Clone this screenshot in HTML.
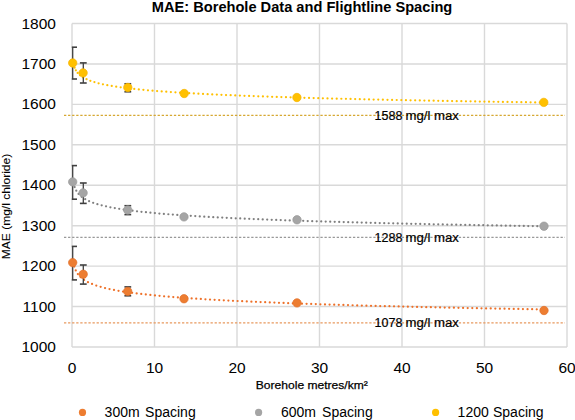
<!DOCTYPE html>
<html><head><meta charset="utf-8"><style>html,body{margin:0;padding:0;background:#fff;width:575px;height:420px;overflow:hidden;position:relative}</style></head>
<body><svg width="575" height="420" viewBox="0 0 575 420" style="position:absolute;left:0;top:0"><line x1="72.0" y1="23.50" x2="567.0" y2="23.50" stroke="#d9d9d9" stroke-width="1.4"/><line x1="72.0" y1="63.94" x2="567.0" y2="63.94" stroke="#d9d9d9" stroke-width="1.4"/><line x1="72.0" y1="104.38" x2="567.0" y2="104.38" stroke="#d9d9d9" stroke-width="1.4"/><line x1="72.0" y1="144.81" x2="567.0" y2="144.81" stroke="#d9d9d9" stroke-width="1.4"/><line x1="72.0" y1="185.25" x2="567.0" y2="185.25" stroke="#d9d9d9" stroke-width="1.4"/><line x1="72.0" y1="225.69" x2="567.0" y2="225.69" stroke="#d9d9d9" stroke-width="1.4"/><line x1="72.0" y1="266.12" x2="567.0" y2="266.12" stroke="#d9d9d9" stroke-width="1.4"/><line x1="72.0" y1="306.56" x2="567.0" y2="306.56" stroke="#d9d9d9" stroke-width="1.4"/><line x1="72.0" y1="347.00" x2="567.0" y2="347.00" stroke="#d9d9d9" stroke-width="1.4"/><line x1="72.00" y1="23.5" x2="72.00" y2="347.0" stroke="#d9d9d9" stroke-width="1.4"/><line x1="154.50" y1="23.5" x2="154.50" y2="347.0" stroke="#d9d9d9" stroke-width="1.4"/><line x1="237.00" y1="23.5" x2="237.00" y2="347.0" stroke="#d9d9d9" stroke-width="1.4"/><line x1="319.50" y1="23.5" x2="319.50" y2="347.0" stroke="#d9d9d9" stroke-width="1.4"/><line x1="402.00" y1="23.5" x2="402.00" y2="347.0" stroke="#d9d9d9" stroke-width="1.4"/><line x1="484.50" y1="23.5" x2="484.50" y2="347.0" stroke="#d9d9d9" stroke-width="1.4"/><line x1="567.00" y1="23.5" x2="567.00" y2="347.0" stroke="#d9d9d9" stroke-width="1.4"/><line x1="64" y1="115.4" x2="565" y2="115.4" stroke="#d6a832" stroke-width="1.2" stroke-dasharray="2.3 1.77"/><line x1="64" y1="237.4" x2="565" y2="237.4" stroke="#999999" stroke-width="1.2" stroke-dasharray="2.3 1.77"/><line x1="64" y1="322.8" x2="565" y2="322.8" stroke="#e8995f" stroke-width="1.2" stroke-dasharray="2.3 1.77"/><g fill="#ffc000"><circle cx="73.14" cy="62.17" r="1.12"/><circle cx="73.72" cy="64.93" r="1.12"/><circle cx="74.59" cy="67.67" r="1.12"/><circle cx="75.87" cy="70.34" r="1.12"/><circle cx="77.67" cy="72.90" r="1.12"/><circle cx="80.07" cy="75.27" r="1.12"/><circle cx="83.07" cy="77.38" r="1.12"/><circle cx="86.55" cy="79.21" r="1.12"/><circle cx="90.37" cy="80.77" r="1.12"/><circle cx="94.42" cy="82.11" r="1.12"/><circle cx="98.62" cy="83.26" r="1.12"/><circle cx="102.93" cy="84.26" r="1.12"/><circle cx="107.31" cy="85.15" r="1.12"/><circle cx="111.73" cy="85.94" r="1.12"/><circle cx="116.20" cy="86.65" r="1.12"/><circle cx="120.69" cy="87.30" r="1.12"/><circle cx="125.20" cy="87.89" r="1.12"/><circle cx="129.73" cy="88.44" r="1.12"/><circle cx="134.27" cy="88.94" r="1.12"/><circle cx="138.82" cy="89.42" r="1.12"/><circle cx="143.38" cy="89.86" r="1.12"/><circle cx="147.95" cy="90.27" r="1.12"/><circle cx="152.52" cy="90.67" r="1.12"/><circle cx="157.10" cy="91.04" r="1.12"/><circle cx="161.68" cy="91.39" r="1.12"/><circle cx="166.26" cy="91.72" r="1.12"/><circle cx="170.85" cy="92.04" r="1.12"/><circle cx="175.44" cy="92.34" r="1.12"/><circle cx="180.03" cy="92.63" r="1.12"/><circle cx="184.63" cy="92.91" r="1.12"/><circle cx="189.22" cy="93.18" r="1.12"/><circle cx="193.82" cy="93.44" r="1.12"/><circle cx="198.42" cy="93.69" r="1.12"/><circle cx="203.02" cy="93.93" r="1.12"/><circle cx="207.63" cy="94.16" r="1.12"/><circle cx="212.23" cy="94.38" r="1.12"/><circle cx="216.83" cy="94.60" r="1.12"/><circle cx="221.44" cy="94.81" r="1.12"/><circle cx="226.04" cy="95.01" r="1.12"/><circle cx="230.65" cy="95.21" r="1.12"/><circle cx="235.26" cy="95.40" r="1.12"/><circle cx="239.87" cy="95.58" r="1.12"/><circle cx="244.47" cy="95.77" r="1.12"/><circle cx="249.08" cy="95.94" r="1.12"/><circle cx="253.69" cy="96.11" r="1.12"/><circle cx="258.30" cy="96.28" r="1.12"/><circle cx="262.91" cy="96.45" r="1.12"/><circle cx="267.52" cy="96.61" r="1.12"/><circle cx="272.13" cy="96.76" r="1.12"/><circle cx="276.75" cy="96.91" r="1.12"/><circle cx="281.36" cy="97.06" r="1.12"/><circle cx="285.97" cy="97.21" r="1.12"/><circle cx="290.58" cy="97.35" r="1.12"/><circle cx="295.19" cy="97.49" r="1.12"/><circle cx="299.81" cy="97.63" r="1.12"/><circle cx="304.42" cy="97.76" r="1.12"/><circle cx="309.03" cy="97.89" r="1.12"/><circle cx="313.64" cy="98.02" r="1.12"/><circle cx="318.26" cy="98.15" r="1.12"/><circle cx="322.87" cy="98.27" r="1.12"/><circle cx="327.49" cy="98.40" r="1.12"/><circle cx="332.10" cy="98.52" r="1.12"/><circle cx="336.71" cy="98.63" r="1.12"/><circle cx="341.33" cy="98.75" r="1.12"/><circle cx="345.94" cy="98.86" r="1.12"/><circle cx="350.56" cy="98.97" r="1.12"/><circle cx="355.17" cy="99.08" r="1.12"/><circle cx="359.79" cy="99.19" r="1.12"/><circle cx="364.40" cy="99.30" r="1.12"/><circle cx="369.02" cy="99.40" r="1.12"/><circle cx="373.63" cy="99.51" r="1.12"/><circle cx="378.25" cy="99.61" r="1.12"/><circle cx="382.86" cy="99.71" r="1.12"/><circle cx="387.48" cy="99.81" r="1.12"/><circle cx="392.09" cy="99.91" r="1.12"/><circle cx="396.71" cy="100.00" r="1.12"/><circle cx="401.32" cy="100.10" r="1.12"/><circle cx="405.94" cy="100.19" r="1.12"/><circle cx="410.55" cy="100.28" r="1.12"/><circle cx="415.17" cy="100.37" r="1.12"/><circle cx="419.79" cy="100.46" r="1.12"/><circle cx="424.40" cy="100.55" r="1.12"/><circle cx="429.02" cy="100.64" r="1.12"/><circle cx="433.63" cy="100.72" r="1.12"/><circle cx="438.25" cy="100.81" r="1.12"/><circle cx="442.87" cy="100.89" r="1.12"/><circle cx="447.48" cy="100.97" r="1.12"/><circle cx="452.10" cy="101.06" r="1.12"/><circle cx="456.71" cy="101.14" r="1.12"/><circle cx="461.33" cy="101.22" r="1.12"/><circle cx="465.95" cy="101.29" r="1.12"/><circle cx="470.56" cy="101.37" r="1.12"/><circle cx="475.18" cy="101.45" r="1.12"/><circle cx="479.80" cy="101.53" r="1.12"/><circle cx="484.41" cy="101.60" r="1.12"/><circle cx="489.03" cy="101.68" r="1.12"/><circle cx="493.65" cy="101.75" r="1.12"/><circle cx="498.26" cy="101.82" r="1.12"/><circle cx="502.88" cy="101.89" r="1.12"/><circle cx="507.50" cy="101.97" r="1.12"/><circle cx="512.11" cy="102.04" r="1.12"/><circle cx="516.73" cy="102.11" r="1.12"/><circle cx="521.35" cy="102.18" r="1.12"/><circle cx="525.96" cy="102.24" r="1.12"/><circle cx="530.58" cy="102.31" r="1.12"/><circle cx="535.20" cy="102.38" r="1.12"/><circle cx="539.81" cy="102.45" r="1.12"/></g><g fill="#7f7f7f"><circle cx="73.61" cy="183.27" r="1.12"/><circle cx="74.65" cy="187.05" r="1.12"/><circle cx="76.27" cy="190.66" r="1.12"/><circle cx="78.61" cy="193.97" r="1.12"/><circle cx="81.65" cy="196.83" r="1.12"/><circle cx="85.20" cy="199.21" r="1.12"/><circle cx="89.09" cy="201.16" r="1.12"/><circle cx="93.18" cy="202.78" r="1.12"/><circle cx="97.39" cy="204.16" r="1.12"/><circle cx="101.68" cy="205.34" r="1.12"/><circle cx="106.02" cy="206.37" r="1.12"/><circle cx="110.40" cy="207.29" r="1.12"/><circle cx="114.80" cy="208.11" r="1.12"/><circle cx="119.22" cy="208.85" r="1.12"/><circle cx="123.65" cy="209.53" r="1.12"/><circle cx="128.10" cy="210.15" r="1.12"/><circle cx="132.55" cy="210.73" r="1.12"/><circle cx="137.01" cy="211.27" r="1.12"/><circle cx="141.48" cy="211.77" r="1.12"/><circle cx="145.95" cy="212.24" r="1.12"/><circle cx="150.42" cy="212.69" r="1.12"/><circle cx="154.90" cy="213.11" r="1.12"/><circle cx="159.38" cy="213.51" r="1.12"/><circle cx="163.86" cy="213.89" r="1.12"/><circle cx="168.34" cy="214.25" r="1.12"/><circle cx="172.83" cy="214.59" r="1.12"/><circle cx="177.31" cy="214.92" r="1.12"/><circle cx="181.80" cy="215.24" r="1.12"/><circle cx="186.29" cy="215.54" r="1.12"/><circle cx="190.78" cy="215.83" r="1.12"/><circle cx="195.27" cy="216.11" r="1.12"/><circle cx="199.77" cy="216.38" r="1.12"/><circle cx="204.26" cy="216.64" r="1.12"/><circle cx="208.75" cy="216.90" r="1.12"/><circle cx="213.25" cy="217.14" r="1.12"/><circle cx="217.74" cy="217.38" r="1.12"/><circle cx="222.24" cy="217.61" r="1.12"/><circle cx="226.73" cy="217.83" r="1.12"/><circle cx="231.23" cy="218.05" r="1.12"/><circle cx="235.73" cy="218.26" r="1.12"/><circle cx="240.22" cy="218.46" r="1.12"/><circle cx="244.72" cy="218.66" r="1.12"/><circle cx="249.22" cy="218.86" r="1.12"/><circle cx="253.72" cy="219.05" r="1.12"/><circle cx="258.21" cy="219.23" r="1.12"/><circle cx="262.71" cy="219.41" r="1.12"/><circle cx="267.21" cy="219.59" r="1.12"/><circle cx="271.71" cy="219.76" r="1.12"/><circle cx="276.21" cy="219.93" r="1.12"/><circle cx="280.71" cy="220.10" r="1.12"/><circle cx="285.21" cy="220.26" r="1.12"/><circle cx="289.71" cy="220.42" r="1.12"/><circle cx="294.21" cy="220.57" r="1.12"/><circle cx="298.71" cy="220.72" r="1.12"/><circle cx="303.21" cy="220.87" r="1.12"/><circle cx="307.71" cy="221.02" r="1.12"/><circle cx="312.21" cy="221.16" r="1.12"/><circle cx="316.71" cy="221.30" r="1.12"/><circle cx="321.21" cy="221.44" r="1.12"/><circle cx="325.71" cy="221.57" r="1.12"/><circle cx="330.21" cy="221.71" r="1.12"/><circle cx="334.71" cy="221.84" r="1.12"/><circle cx="339.21" cy="221.97" r="1.12"/><circle cx="343.71" cy="222.09" r="1.12"/><circle cx="348.21" cy="222.22" r="1.12"/><circle cx="352.71" cy="222.34" r="1.12"/><circle cx="357.21" cy="222.46" r="1.12"/><circle cx="361.71" cy="222.58" r="1.12"/><circle cx="366.21" cy="222.69" r="1.12"/><circle cx="370.72" cy="222.81" r="1.12"/><circle cx="375.22" cy="222.92" r="1.12"/><circle cx="379.72" cy="223.03" r="1.12"/><circle cx="384.22" cy="223.14" r="1.12"/><circle cx="388.72" cy="223.25" r="1.12"/><circle cx="393.22" cy="223.36" r="1.12"/><circle cx="397.72" cy="223.46" r="1.12"/><circle cx="402.23" cy="223.57" r="1.12"/><circle cx="406.73" cy="223.67" r="1.12"/><circle cx="411.23" cy="223.77" r="1.12"/><circle cx="415.73" cy="223.87" r="1.12"/><circle cx="420.23" cy="223.97" r="1.12"/><circle cx="424.73" cy="224.07" r="1.12"/><circle cx="429.24" cy="224.16" r="1.12"/><circle cx="433.74" cy="224.26" r="1.12"/><circle cx="438.24" cy="224.35" r="1.12"/><circle cx="442.74" cy="224.44" r="1.12"/><circle cx="447.24" cy="224.54" r="1.12"/><circle cx="451.75" cy="224.63" r="1.12"/><circle cx="456.25" cy="224.71" r="1.12"/><circle cx="460.75" cy="224.80" r="1.12"/><circle cx="465.25" cy="224.89" r="1.12"/><circle cx="469.75" cy="224.98" r="1.12"/><circle cx="474.26" cy="225.06" r="1.12"/><circle cx="478.76" cy="225.15" r="1.12"/><circle cx="483.26" cy="225.23" r="1.12"/><circle cx="487.76" cy="225.31" r="1.12"/><circle cx="492.26" cy="225.39" r="1.12"/><circle cx="496.77" cy="225.47" r="1.12"/><circle cx="501.27" cy="225.55" r="1.12"/><circle cx="505.77" cy="225.63" r="1.12"/><circle cx="510.27" cy="225.71" r="1.12"/><circle cx="514.78" cy="225.79" r="1.12"/><circle cx="519.28" cy="225.86" r="1.12"/><circle cx="523.78" cy="225.94" r="1.12"/><circle cx="528.28" cy="226.02" r="1.12"/><circle cx="532.79" cy="226.09" r="1.12"/><circle cx="537.29" cy="226.16" r="1.12"/><circle cx="541.79" cy="226.24" r="1.12"/></g><g fill="#ee7028"><circle cx="73.42" cy="262.65" r="1.12"/><circle cx="74.33" cy="266.61" r="1.12"/><circle cx="75.75" cy="270.45" r="1.12"/><circle cx="77.85" cy="274.04" r="1.12"/><circle cx="80.67" cy="277.22" r="1.12"/><circle cx="84.11" cy="279.91" r="1.12"/><circle cx="87.95" cy="282.13" r="1.12"/><circle cx="92.04" cy="283.97" r="1.12"/><circle cx="96.29" cy="285.52" r="1.12"/><circle cx="100.64" cy="286.85" r="1.12"/><circle cx="105.06" cy="288.01" r="1.12"/><circle cx="109.51" cy="289.03" r="1.12"/><circle cx="114.00" cy="289.94" r="1.12"/><circle cx="118.51" cy="290.76" r="1.12"/><circle cx="123.03" cy="291.51" r="1.12"/><circle cx="127.57" cy="292.19" r="1.12"/><circle cx="132.12" cy="292.83" r="1.12"/><circle cx="136.67" cy="293.42" r="1.12"/><circle cx="141.23" cy="293.97" r="1.12"/><circle cx="145.80" cy="294.48" r="1.12"/><circle cx="150.37" cy="294.97" r="1.12"/><circle cx="154.95" cy="295.42" r="1.12"/><circle cx="159.53" cy="295.86" r="1.12"/><circle cx="164.11" cy="296.27" r="1.12"/><circle cx="168.69" cy="296.66" r="1.12"/><circle cx="173.28" cy="297.03" r="1.12"/><circle cx="177.86" cy="297.39" r="1.12"/><circle cx="182.45" cy="297.73" r="1.12"/><circle cx="187.04" cy="298.06" r="1.12"/><circle cx="191.63" cy="298.38" r="1.12"/><circle cx="196.23" cy="298.68" r="1.12"/><circle cx="200.82" cy="298.97" r="1.12"/><circle cx="205.41" cy="299.26" r="1.12"/><circle cx="210.01" cy="299.53" r="1.12"/><circle cx="214.60" cy="299.79" r="1.12"/><circle cx="219.20" cy="300.05" r="1.12"/><circle cx="223.79" cy="300.30" r="1.12"/><circle cx="228.39" cy="300.54" r="1.12"/><circle cx="232.99" cy="300.77" r="1.12"/><circle cx="237.59" cy="301.00" r="1.12"/><circle cx="242.18" cy="301.22" r="1.12"/><circle cx="246.78" cy="301.43" r="1.12"/><circle cx="251.38" cy="301.64" r="1.12"/><circle cx="255.98" cy="301.85" r="1.12"/><circle cx="260.58" cy="302.05" r="1.12"/><circle cx="265.18" cy="302.24" r="1.12"/><circle cx="269.78" cy="302.43" r="1.12"/><circle cx="274.38" cy="302.61" r="1.12"/><circle cx="278.98" cy="302.80" r="1.12"/><circle cx="283.58" cy="302.97" r="1.12"/><circle cx="288.18" cy="303.15" r="1.12"/><circle cx="292.78" cy="303.32" r="1.12"/><circle cx="297.38" cy="303.48" r="1.12"/><circle cx="301.98" cy="303.65" r="1.12"/><circle cx="306.59" cy="303.81" r="1.12"/><circle cx="311.19" cy="303.96" r="1.12"/><circle cx="315.79" cy="304.12" r="1.12"/><circle cx="320.39" cy="304.27" r="1.12"/><circle cx="324.99" cy="304.41" r="1.12"/><circle cx="329.59" cy="304.56" r="1.12"/><circle cx="334.20" cy="304.70" r="1.12"/><circle cx="338.80" cy="304.84" r="1.12"/><circle cx="343.40" cy="304.98" r="1.12"/><circle cx="348.00" cy="305.12" r="1.12"/><circle cx="352.61" cy="305.25" r="1.12"/><circle cx="357.21" cy="305.38" r="1.12"/><circle cx="361.81" cy="305.51" r="1.12"/><circle cx="366.41" cy="305.64" r="1.12"/><circle cx="371.02" cy="305.76" r="1.12"/><circle cx="375.62" cy="305.88" r="1.12"/><circle cx="380.22" cy="306.01" r="1.12"/><circle cx="384.83" cy="306.13" r="1.12"/><circle cx="389.43" cy="306.24" r="1.12"/><circle cx="394.03" cy="306.36" r="1.12"/><circle cx="398.63" cy="306.47" r="1.12"/><circle cx="403.24" cy="306.59" r="1.12"/><circle cx="407.84" cy="306.70" r="1.12"/><circle cx="412.44" cy="306.81" r="1.12"/><circle cx="417.05" cy="306.92" r="1.12"/><circle cx="421.65" cy="307.02" r="1.12"/><circle cx="426.25" cy="307.13" r="1.12"/><circle cx="430.86" cy="307.23" r="1.12"/><circle cx="435.46" cy="307.34" r="1.12"/><circle cx="440.07" cy="307.44" r="1.12"/><circle cx="444.67" cy="307.54" r="1.12"/><circle cx="449.27" cy="307.64" r="1.12"/><circle cx="453.88" cy="307.73" r="1.12"/><circle cx="458.48" cy="307.83" r="1.12"/><circle cx="463.08" cy="307.93" r="1.12"/><circle cx="467.69" cy="308.02" r="1.12"/><circle cx="472.29" cy="308.11" r="1.12"/><circle cx="476.89" cy="308.21" r="1.12"/><circle cx="481.50" cy="308.30" r="1.12"/><circle cx="486.10" cy="308.39" r="1.12"/><circle cx="490.71" cy="308.48" r="1.12"/><circle cx="495.31" cy="308.56" r="1.12"/><circle cx="499.91" cy="308.65" r="1.12"/><circle cx="504.52" cy="308.74" r="1.12"/><circle cx="509.12" cy="308.82" r="1.12"/><circle cx="513.73" cy="308.91" r="1.12"/><circle cx="518.33" cy="308.99" r="1.12"/><circle cx="522.93" cy="309.07" r="1.12"/><circle cx="527.54" cy="309.16" r="1.12"/><circle cx="532.14" cy="309.24" r="1.12"/><circle cx="536.75" cy="309.32" r="1.12"/><circle cx="541.35" cy="309.40" r="1.12"/></g><line x1="72.7" y1="47.2" x2="72.7" y2="79.0" stroke="#404040" stroke-width="1.3"/><line x1="71.8" y1="47.2" x2="77.0" y2="47.2" stroke="#404040" stroke-width="1.6"/><line x1="71.8" y1="79.0" x2="77.0" y2="79.0" stroke="#404040" stroke-width="1.6"/><line x1="83.3" y1="62.9" x2="83.3" y2="83.0" stroke="#404040" stroke-width="1.3"/><line x1="79.89999999999999" y1="62.9" x2="86.7" y2="62.9" stroke="#404040" stroke-width="1.6"/><line x1="79.89999999999999" y1="83.0" x2="86.7" y2="83.0" stroke="#404040" stroke-width="1.6"/><line x1="127.8" y1="83.75" x2="127.8" y2="91.8" stroke="#404040" stroke-width="1.3"/><line x1="124.39999999999999" y1="83.75" x2="131.2" y2="83.75" stroke="#404040" stroke-width="1.6"/><line x1="124.39999999999999" y1="91.8" x2="131.2" y2="91.8" stroke="#404040" stroke-width="1.6"/><line x1="72.7" y1="165.6" x2="72.7" y2="199.2" stroke="#404040" stroke-width="1.3"/><line x1="71.8" y1="165.6" x2="77.0" y2="165.6" stroke="#404040" stroke-width="1.6"/><line x1="71.8" y1="199.2" x2="77.0" y2="199.2" stroke="#404040" stroke-width="1.6"/><line x1="83.3" y1="183.0" x2="83.3" y2="203.4" stroke="#404040" stroke-width="1.3"/><line x1="79.89999999999999" y1="183.0" x2="86.7" y2="183.0" stroke="#404040" stroke-width="1.6"/><line x1="79.89999999999999" y1="203.4" x2="86.7" y2="203.4" stroke="#404040" stroke-width="1.6"/><line x1="127.8" y1="205.7" x2="127.8" y2="214.6" stroke="#404040" stroke-width="1.3"/><line x1="124.39999999999999" y1="205.7" x2="131.2" y2="205.7" stroke="#404040" stroke-width="1.6"/><line x1="124.39999999999999" y1="214.6" x2="131.2" y2="214.6" stroke="#404040" stroke-width="1.6"/><line x1="72.7" y1="246.4" x2="72.7" y2="279.9" stroke="#404040" stroke-width="1.3"/><line x1="71.8" y1="246.4" x2="77.0" y2="246.4" stroke="#404040" stroke-width="1.6"/><line x1="71.8" y1="279.9" x2="77.0" y2="279.9" stroke="#404040" stroke-width="1.6"/><line x1="83.3" y1="265.0" x2="83.3" y2="284.1" stroke="#404040" stroke-width="1.3"/><line x1="79.89999999999999" y1="265.0" x2="86.7" y2="265.0" stroke="#404040" stroke-width="1.6"/><line x1="79.89999999999999" y1="284.1" x2="86.7" y2="284.1" stroke="#404040" stroke-width="1.6"/><line x1="127.8" y1="286.9" x2="127.8" y2="295.8" stroke="#404040" stroke-width="1.3"/><line x1="124.39999999999999" y1="286.9" x2="131.2" y2="286.9" stroke="#404040" stroke-width="1.6"/><line x1="124.39999999999999" y1="295.8" x2="131.2" y2="295.8" stroke="#404040" stroke-width="1.6"/><circle cx="72.7" cy="63.0" r="4.2" fill="#ffc000" stroke="#f7b400" stroke-width="0.7"/><circle cx="83.1" cy="72.9" r="4.2" fill="#ffc000" stroke="#f7b400" stroke-width="0.7"/><circle cx="127.8" cy="87.5" r="4.2" fill="#ffc000" stroke="#f7b400" stroke-width="0.7"/><circle cx="184.2" cy="93.5" r="4.2" fill="#ffc000" stroke="#f7b400" stroke-width="0.7"/><circle cx="296.9" cy="97.5" r="4.2" fill="#ffc000" stroke="#f7b400" stroke-width="0.7"/><circle cx="543.8" cy="102.4" r="4.2" fill="#ffc000" stroke="#f7b400" stroke-width="0.7"/><circle cx="72.7" cy="181.9" r="4.2" fill="#a5a5a5" stroke="#9a9a9a" stroke-width="0.7"/><circle cx="83.1" cy="192.9" r="4.2" fill="#a5a5a5" stroke="#9a9a9a" stroke-width="0.7"/><circle cx="127.7" cy="210.0" r="4.2" fill="#a5a5a5" stroke="#9a9a9a" stroke-width="0.7"/><circle cx="184.0" cy="216.9" r="4.2" fill="#a5a5a5" stroke="#9a9a9a" stroke-width="0.7"/><circle cx="297.0" cy="219.8" r="4.2" fill="#a5a5a5" stroke="#9a9a9a" stroke-width="0.7"/><circle cx="544.0" cy="226.2" r="4.2" fill="#a5a5a5" stroke="#9a9a9a" stroke-width="0.7"/><circle cx="72.7" cy="262.6" r="4.2" fill="#ed7d31" stroke="#e2702a" stroke-width="0.7"/><circle cx="83.2" cy="274.3" r="4.2" fill="#ed7d31" stroke="#e2702a" stroke-width="0.7"/><circle cx="127.7" cy="291.4" r="4.2" fill="#ed7d31" stroke="#e2702a" stroke-width="0.7"/><circle cx="184.0" cy="298.75" r="4.2" fill="#ed7d31" stroke="#e2702a" stroke-width="0.7"/><circle cx="297.0" cy="302.9" r="4.2" fill="#ed7d31" stroke="#e2702a" stroke-width="0.7"/><circle cx="544.0" cy="310.5" r="4.2" fill="#ed7d31" stroke="#e2702a" stroke-width="0.7"/><text x="151.8" y="11.8" font-size="15" text-anchor="start" font-weight="bold" font-family="Liberation Sans, sans-serif" fill="#000" textLength="300.5" lengthAdjust="spacingAndGlyphs" >MAE: Borehole Data and Flightline Spacing</text><text x="55.9" y="28.5" font-size="15.5" text-anchor="end" font-weight="normal" font-family="Liberation Sans, sans-serif" fill="#000" >1800</text><text x="55.9" y="68.9375" font-size="15.5" text-anchor="end" font-weight="normal" font-family="Liberation Sans, sans-serif" fill="#000" >1700</text><text x="55.9" y="109.375" font-size="15.5" text-anchor="end" font-weight="normal" font-family="Liberation Sans, sans-serif" fill="#000" >1600</text><text x="55.9" y="149.8125" font-size="15.5" text-anchor="end" font-weight="normal" font-family="Liberation Sans, sans-serif" fill="#000" >1500</text><text x="55.9" y="190.25" font-size="15.5" text-anchor="end" font-weight="normal" font-family="Liberation Sans, sans-serif" fill="#000" >1400</text><text x="55.9" y="230.6875" font-size="15.5" text-anchor="end" font-weight="normal" font-family="Liberation Sans, sans-serif" fill="#000" >1300</text><text x="55.9" y="271.125" font-size="15.5" text-anchor="end" font-weight="normal" font-family="Liberation Sans, sans-serif" fill="#000" >1200</text><text x="55.9" y="311.5625" font-size="15.5" text-anchor="end" font-weight="normal" font-family="Liberation Sans, sans-serif" fill="#000" >1100</text><text x="55.9" y="352.0" font-size="15.5" text-anchor="end" font-weight="normal" font-family="Liberation Sans, sans-serif" fill="#000" >1000</text><text x="72.0" y="373.4" font-size="15.5" text-anchor="middle" font-weight="normal" font-family="Liberation Sans, sans-serif" fill="#000" >0</text><text x="154.5" y="373.4" font-size="15.5" text-anchor="middle" font-weight="normal" font-family="Liberation Sans, sans-serif" fill="#000" >10</text><text x="237.0" y="373.4" font-size="15.5" text-anchor="middle" font-weight="normal" font-family="Liberation Sans, sans-serif" fill="#000" >20</text><text x="319.5" y="373.4" font-size="15.5" text-anchor="middle" font-weight="normal" font-family="Liberation Sans, sans-serif" fill="#000" >30</text><text x="402.0" y="373.4" font-size="15.5" text-anchor="middle" font-weight="normal" font-family="Liberation Sans, sans-serif" fill="#000" >40</text><text x="484.5" y="373.4" font-size="15.5" text-anchor="middle" font-weight="normal" font-family="Liberation Sans, sans-serif" fill="#000" >50</text><text x="567.0" y="373.4" font-size="15.5" text-anchor="middle" font-weight="normal" font-family="Liberation Sans, sans-serif" fill="#000" >60</text><text x="255.8" y="388.7" font-size="11.5" text-anchor="start" font-weight="normal" font-family="Liberation Sans, sans-serif" fill="#000" textLength="112" lengthAdjust="spacingAndGlyphs" stroke="#000" stroke-width="0.25">Borehole metres/km²</text><text transform="translate(10.1,259.2) rotate(-90)" x="0" y="0" font-size="11.5" font-family="Liberation Sans, sans-serif" stroke="#000" stroke-width="0.1" textLength="105.4" lengthAdjust="spacingAndGlyphs">MAE (mg/l chloride)</text><text x="374.6" y="119.9" font-size="12.5" text-anchor="start" font-weight="normal" font-family="Liberation Sans, sans-serif" fill="#000" stroke="#000" stroke-width="0.2">1588</text><text x="405.5" y="119.9" font-size="12.5" text-anchor="start" font-weight="normal" font-family="Liberation Sans, sans-serif" fill="#000" textLength="53.3" lengthAdjust="spacingAndGlyphs" stroke="#000" stroke-width="0.2">mg/l max</text><text x="374.6" y="241.9" font-size="12.5" text-anchor="start" font-weight="normal" font-family="Liberation Sans, sans-serif" fill="#000" stroke="#000" stroke-width="0.2">1288</text><text x="405.5" y="241.9" font-size="12.5" text-anchor="start" font-weight="normal" font-family="Liberation Sans, sans-serif" fill="#000" textLength="53.3" lengthAdjust="spacingAndGlyphs" stroke="#000" stroke-width="0.2">mg/l max</text><text x="374.6" y="327.3" font-size="12.5" text-anchor="start" font-weight="normal" font-family="Liberation Sans, sans-serif" fill="#000" stroke="#000" stroke-width="0.2">1078</text><text x="405.5" y="327.3" font-size="12.5" text-anchor="start" font-weight="normal" font-family="Liberation Sans, sans-serif" fill="#000" textLength="53.3" lengthAdjust="spacingAndGlyphs" stroke="#000" stroke-width="0.2">mg/l max</text><circle cx="82.5" cy="412.4" r="3.6" fill="#ed7d31"/><text x="104.6" y="416.8" font-size="14" text-anchor="start" font-weight="normal" font-family="Liberation Sans, sans-serif" fill="#000" >300m</text><text x="145.1" y="416.8" font-size="14" text-anchor="start" font-weight="normal" font-family="Liberation Sans, sans-serif" fill="#000" >Spacing</text><circle cx="258.6" cy="412.4" r="3.6" fill="#a5a5a5"/><text x="281.0" y="416.8" font-size="14" text-anchor="start" font-weight="normal" font-family="Liberation Sans, sans-serif" fill="#000" >600m</text><text x="322.1" y="416.8" font-size="14" text-anchor="start" font-weight="normal" font-family="Liberation Sans, sans-serif" fill="#000" >Spacing</text><circle cx="435.6" cy="412.4" r="3.6" fill="#ffc000"/><text x="457.6" y="416.8" font-size="14" text-anchor="start" font-weight="normal" font-family="Liberation Sans, sans-serif" fill="#000" >1200</text><text x="493.0" y="416.8" font-size="14" text-anchor="start" font-weight="normal" font-family="Liberation Sans, sans-serif" fill="#000" >Spacing</text></svg></body></html>
